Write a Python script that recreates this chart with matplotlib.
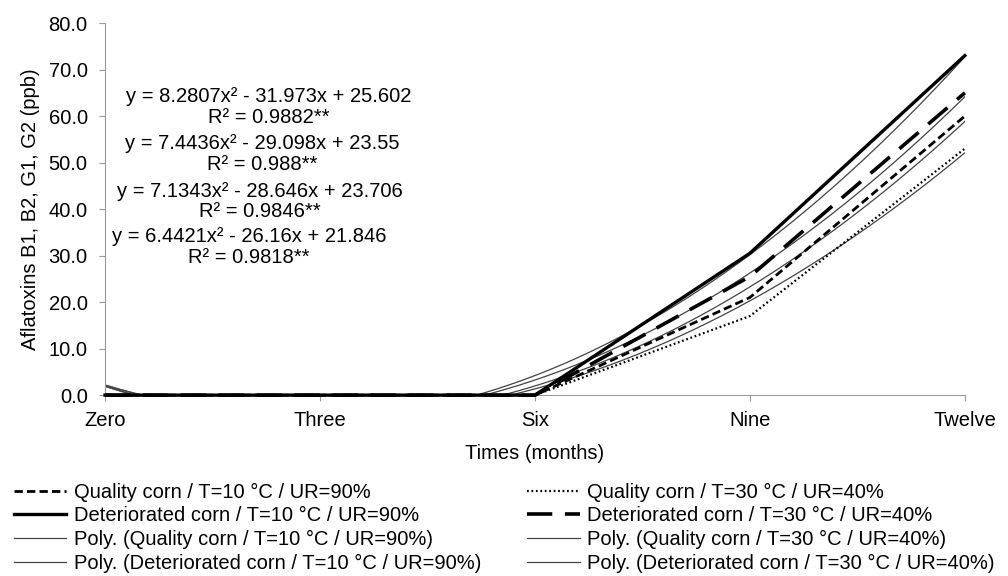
import numpy as np
import matplotlib.pyplot as plt

plt.rcParams['font.family'] = ['Liberation Sans', 'DejaVu Sans']

months = ['Zero', 'Three', 'Six', 'Nine', 'Twelve']
quality_10 = [0, 0, 0, 21.0, 60.0]
deteriorated_10 = [0, 0, 0, 30.5, 73.0]
quality_30 = [0, 0, 0, 17.0, 53.0]
deteriorated_30 = [0, 0, 0, 25.5, 65.0]

# trendline coefficients (a, b, c) as printed on the chart
coef_d10 = [8.2807, -31.973, 25.602]
coef_d30 = [7.4436, -29.098, 23.55]
coef_q10 = [7.1343, -28.646, 23.706]
coef_q30 = [6.4421, -26.16, 21.846]

eq_texts = [
    ('y = 8.2807x² - 31.973x + 25.602', 'R² = 0.9882**'),
    ('y = 7.4436x² - 29.098x + 23.55', 'R² = 0.988**'),
    ('y = 7.1343x² - 28.646x + 23.706', 'R² = 0.9846**'),
    ('y = 6.4421x² - 26.16x + 21.846', 'R² = 0.9818**'),
]

fs = 14.5
fig = plt.figure(figsize=(10.08, 5.76), dpi=100)
ax = fig.add_axes([0.1042, 0.314, 0.853, 0.646])

x = np.arange(1, len(months) + 1)
xs = np.linspace(1, 5, 300)

l_q10, = ax.plot(x, quality_10, color='black', lw=2.0, ls=(0, (3, 1.5)), clip_on=False, zorder=3)
l_d10, = ax.plot(x, deteriorated_10, color='black', lw=2.4, ls='-', clip_on=False, zorder=3)
l_q30, = ax.plot(x, quality_30, color='black', lw=1.6, ls=(0, (0.8, 1.2)), clip_on=False, zorder=3)
l_d30, = ax.plot(x, deteriorated_30, color='black', lw=2.6, ls=(0, (7, 3.5)), clip_on=False, zorder=3)

tcol = '#444444'
p_q10, = ax.plot(xs, np.polyval(coef_q10, xs), color=tcol, lw=0.9)
p_d10, = ax.plot(xs, np.polyval(coef_d10, xs), color=tcol, lw=0.9)
p_q30, = ax.plot(xs, np.polyval(coef_q30, xs), color=tcol, lw=0.9)
p_d30, = ax.plot(xs, np.polyval(coef_d30, xs), color=tcol, lw=0.9)

ax.set_xlim(1, 5)
ax.set_ylim(0, 80)
ax.set_xticks(x)
ax.set_xticklabels(months, fontsize=fs)
ax.set_yticks(np.arange(0, 81, 10))
ax.set_yticklabels(['%.1f' % v for v in np.arange(0, 81, 10)], fontsize=fs)
for s in ['top', 'right']:
    ax.spines[s].set_visible(False)
for s in ['left', 'bottom']:
    ax.spines[s].set_color('#999999')
ax.tick_params(axis='y', length=4.5, color='#999999', pad=8)
ax.tick_params(axis='x', length=4.5, color='#999999', pad=7)
ax.set_xlabel('Times (months)', fontsize=fs, labelpad=10)
ax.set_ylabel('Aflatoxins B1, B2, G1, G2 (ppb)', fontsize=fs, labelpad=6)

eq_pos = [(1.76, 64.1, 59.6), (1.73, 54.2, 49.5), (1.72, 43.7, 39.4), (1.67, 34.0, 29.5)]
for (eq, r2), (xc, y1, y2) in zip(eq_texts, eq_pos):
    ax.text(xc, y1, eq, ha='center', va='center', fontsize=fs)
    ax.text(xc, y2, r2, ha='center', va='center', fontsize=fs)

leg_kw = dict(frameon=False, fontsize=fs, handlelength=2.6, handletextpad=0.35,
              labelspacing=0.23, borderaxespad=0, borderpad=0, loc='upper left')
fig.legend([l_q10, l_d10, p_q10, p_d10],
           ['Quality corn / T=10 °C / UR=90%',
            'Deteriorated corn / T=10 °C / UR=90%',
            'Poly. (Quality corn / T=10 °C / UR=90%)',
            'Poly. (Deteriorated corn / T=10 °C / UR=90%)'],
           bbox_to_anchor=(0.014, 0.162), **leg_kw)
fig.legend([l_q30, l_d30, p_q30, p_d30],
           ['Quality corn / T=30 °C / UR=40%',
            'Deteriorated corn / T=30 °C / UR=40%',
            'Poly. (Quality corn / T=30 °C / UR=40%)',
            'Poly. (Deteriorated corn / T=30 °C / UR=40%)'],
           bbox_to_anchor=(0.523, 0.162), **leg_kw)

fig.savefig('out.png', dpi=100)
